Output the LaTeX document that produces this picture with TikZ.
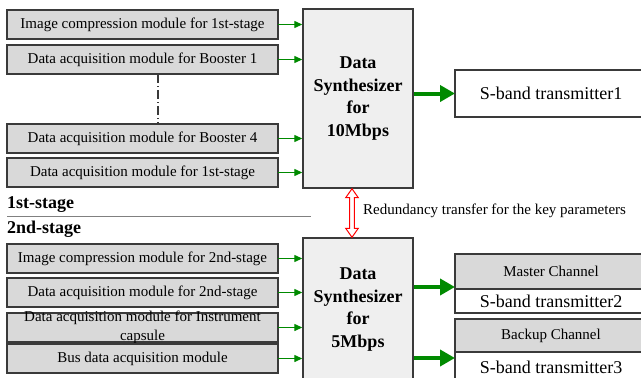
\documentclass[tikz,border=0pt]{standalone}
\usepackage{fontspec}
\setmainfont{Liberation Serif}
\usetikzlibrary{arrows.meta,positioning,calc}

\definecolor{boxgray}{HTML}{D9D9D9}
\definecolor{synfill}{HTML}{EFEFEF}
\definecolor{linegray}{HTML}{3A3A3A}
\definecolor{arrgreen}{HTML}{008A00}

\tikzset{
  modbox/.style={draw=linegray, line width=1.4pt, fill=boxgray, minimum width=271pt,
    minimum height=29pt, inner sep=1pt, outer sep=0pt, font=\fontsize{15}{19}\selectfont},
  synbox/.style={draw=linegray, line width=1.4pt, fill=synfill, minimum width=110pt,
    align=center, font=\fontsize{18}{22.6}\selectfont\bfseries},
  txbox/.style={draw=linegray, line width=1.4pt, fill=white, minimum width=192pt,
    inner sep=0pt, outer sep=0pt, font=\fontsize{18}{20}\selectfont},
  chbox/.style={draw=linegray, line width=1.4pt, fill=boxgray, minimum width=192pt,
    inner sep=0pt, outer sep=0pt, font=\fontsize{15}{18}\selectfont},
  inarrow/.style={draw=arrgreen, line width=1.3pt, -{Triangle[length=8pt,width=7pt]}},
  outarrow/.style={draw=arrgreen, line width=4pt, -{Triangle[length=15pt,width=16pt]}},
  stagelabel/.style={anchor=west, inner sep=0pt, font=\fontsize{18}{20}\selectfont\bfseries},
}

\begin{document}
\begin{tikzpicture}[x=1pt,y=1pt]
  \useasboundingbox (0,0) rectangle (641,-378);
  \clip (0,0) rectangle (641,-378);

  % 1st-stage modules
  \node[modbox] (img1) at (142.5,-24.5) {Image compression module for 1st-stage};
  \node[modbox, below=6pt of img1] (daqb1) {Data acquisition module for Booster 1};
  \node[modbox, below=50pt of daqb1] (daqb4) {Data acquisition module for Booster 4};
  \node[modbox, below=5pt of daqb4] (daq1) {Data acquisition module for 1st-stage};
  \draw[linegray, line width=1.2pt, dash pattern=on 9pt off 3pt on 1pt off 3pt]
    ([xshift=15.5pt]daqb1.south) -- ([xshift=15.5pt]daqb4.north);

  % stage separation
  \node[stagelabel] (st1) at (7,-205) {1st-stage};
  \node[stagelabel] (st2) at (7,-229) {2nd-stage};
  \coordinate (sepl) at (7,-216);
  \coordinate (sepr) at (311,-216);
  \draw[gray, line width=1pt] (sepl) -- (sepr);

  % 2nd-stage modules
  \node[modbox] (img2) at (142.5,-258.5) {Image compression module for 2nd-stage};
  \node[modbox, below=5pt of img2] (daq2) {Data acquisition module for 2nd-stage};
  \node[modbox, below=6pt of daq2] (daqic)
    {\smash{\raisebox{-3pt}{\parbox[c]{265pt}{\centering Data acquisition module for Instrument\\capsule}}}};
  \node[modbox, below=2pt of daqic] (bus) {Bus data acquisition module};

  % synthesizers
  \node[synbox, minimum height=179pt] (syn1) at (358,-98.5) {Data\\Synthesizer\\for\\10Mbps};
  \node[synbox, minimum height=143pt] (syn2) at (358,-309.5) {Data\\Synthesizer\\for\\5Mbps};

  % transmitters
  \node[txbox, minimum height=47pt] (tx1) at (551,-93.5) {S-band transmitter1};
  \node[chbox, minimum height=35pt] (mch) at (551,-271.5) {Master Channel};
  \node[txbox, minimum height=24pt, below=0pt of mch] (tx2) {S-band transmitter2};
  \node[chbox, minimum height=33pt] (bch) at (551,-335.5) {Backup Channel};
  \node[txbox, minimum height=30pt, below=0pt of bch] (tx3) {S-band transmitter3};

  % inputs
  \foreach \m in {img1,daqb1,daqb4,daq1}
    \draw[inarrow] (\m.east) -- (\m.east -| syn1.west);
  \foreach \m in {img2,daq2,daqic,bus}
    \draw[inarrow] (\m.east) -- (\m.east -| syn2.west);

  % outputs
  \draw[outarrow] (tx1.west -| syn1.east) -- (tx1.west);
  \draw[outarrow] ([yshift=2pt]mch.south west -| syn2.east) -- ([yshift=2pt]mch.south west);
  \draw[outarrow] ([yshift=-6pt]bch.south west -| syn2.east) -- ([yshift=-6pt]bch.south west);

  % redundancy link
  \coordinate (rtop) at ([xshift=-6pt]syn1.south);
  \coordinate (rbot) at ([xshift=-6pt]syn2.north);
  \draw[red, line width=1pt, fill=white] let \p1=(rtop), \p2=(rbot) in
    (\x1,\y1) -- (\x1+6.3pt,\y1-9pt) -- (\x1+2.3pt,\y1-9pt) -- (\x1+2.3pt,\y2+9pt)
    -- (\x1+6.3pt,\y2+9pt) -- (\x2,\y2) -- (\x1-6.3pt,\y2+9pt) -- (\x1-2.3pt,\y2+9pt)
    -- (\x1-2.3pt,\y1-9pt) -- (\x1-6.3pt,\y1-9pt) -- cycle;
  \node[anchor=west, inner sep=0pt, font=\fontsize{15}{18}\selectfont] (redlbl)
    at ([xshift=11pt,yshift=2pt]$(rtop)!0.5!(rbot)$) {Redundancy transfer for the key parameters};
\end{tikzpicture}
\end{document}
